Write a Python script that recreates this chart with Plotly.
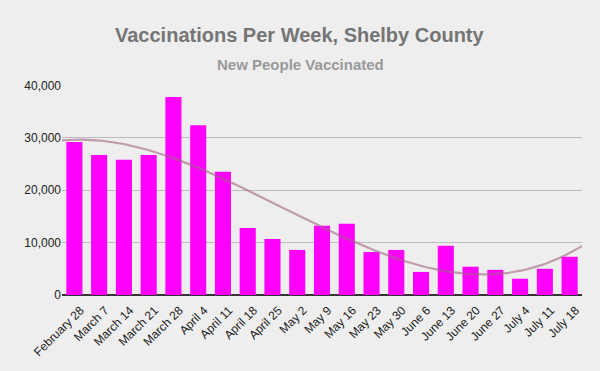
import numpy as np
import plotly.graph_objects as go

weeks = ["February 28", "March 7", "March 14", "March 21", "March 28", "April 4",
         "April 11", "April 18", "April 25", "May 2", "May 9", "May 16", "May 23",
         "May 30", "June 6", "June 13", "June 20", "June 27", "July 4", "July 11",
         "July 18"]
new_people = [29200, 26700, 25800, 26700, 37800, 32400, 23500, 12800, 10700, 8600,
              13200, 13600, 8200, 8600, 4400, 9400, 5400, 4800, 3100, 5000, 7300]
y_ticks = [0, 10000, 20000, 30000, 40000]

x_idx = np.arange(len(weeks))
coef = np.polyfit(x_idx, new_people, 3)
xs = np.linspace(-0.5, len(weeks) - 0.5, 200)
trend = np.polyval(coef, xs)

W, H = 600, 371
ML, MR, MT, MB = 62, 18, 85, 76
plot_w = W - ML - MR
plot_h = H - MT - MB


def px_to_paper(xpx, ypx):
    return (xpx - ML) / plot_w, (H - MB - ypx) / plot_h


tx, ty = px_to_paper(300, 35)
sx, sy = px_to_paper(300, 65)

fig = go.Figure()
fig.add_trace(go.Bar(x=x_idx, y=new_people, marker_color="#ff00ff",
                     marker_line_width=0, width=0.65))
fig.add_trace(go.Scatter(x=xs, y=trend, mode="lines",
                         line=dict(color="rgba(160,100,130,0.6)", width=2.2),
                         hoverinfo="skip"))

fig.update_layout(
    width=W, height=H,
    paper_bgcolor="#eeeeee", plot_bgcolor="#eeeeee",
    margin=dict(l=ML, r=MR, t=MT, b=MB),
    showlegend=False,
    font=dict(family="Liberation Sans, Arial, sans-serif", color="#222222", size=12),
    annotations=[
        dict(text="<b>Vaccinations Per Week, Shelby County</b>", x=tx, y=ty,
             xref="paper", yref="paper", showarrow=False, xanchor="center",
             font=dict(size=20, color="#757575"), yanchor="middle"),
        dict(text="<b>New People Vaccinated</b>", x=sx, y=sy,
             xref="paper", yref="paper", showarrow=False, xanchor="center",
             font=dict(size=15, color="#999999"), yanchor="middle"),
    ],
)

fig.update_xaxes(range=[-0.5, len(weeks) - 0.5], tickmode="array",
                 tickvals=list(x_idx), ticktext=weeks, tickangle=-45,
                 showgrid=False, zeroline=False, showline=False, ticks="",
                 automargin=False, ticklabelshift=6, ticklabelstandoff=5,
                 tickfont=dict(size=12, color="#222222"))
fig.update_yaxes(range=[0, 40080], tickmode="array", tickvals=y_ticks,
                 ticktext=[f"{v:,}" for v in y_ticks],
                 gridcolor="#bdbdbd", gridwidth=1, zeroline=True,
                 zerolinecolor="#333333", zerolinewidth=1.5, ticks="",
                 automargin=False,
                 tickfont=dict(size=12, color="#222222"))

fig.write_html("out.html",
               config={"displayModeBar": False},
               post_script="document.body.style.margin='0';"
                           "document.body.style.overflow='hidden';"
                           "document.body.style.background='#eeeeee';")
